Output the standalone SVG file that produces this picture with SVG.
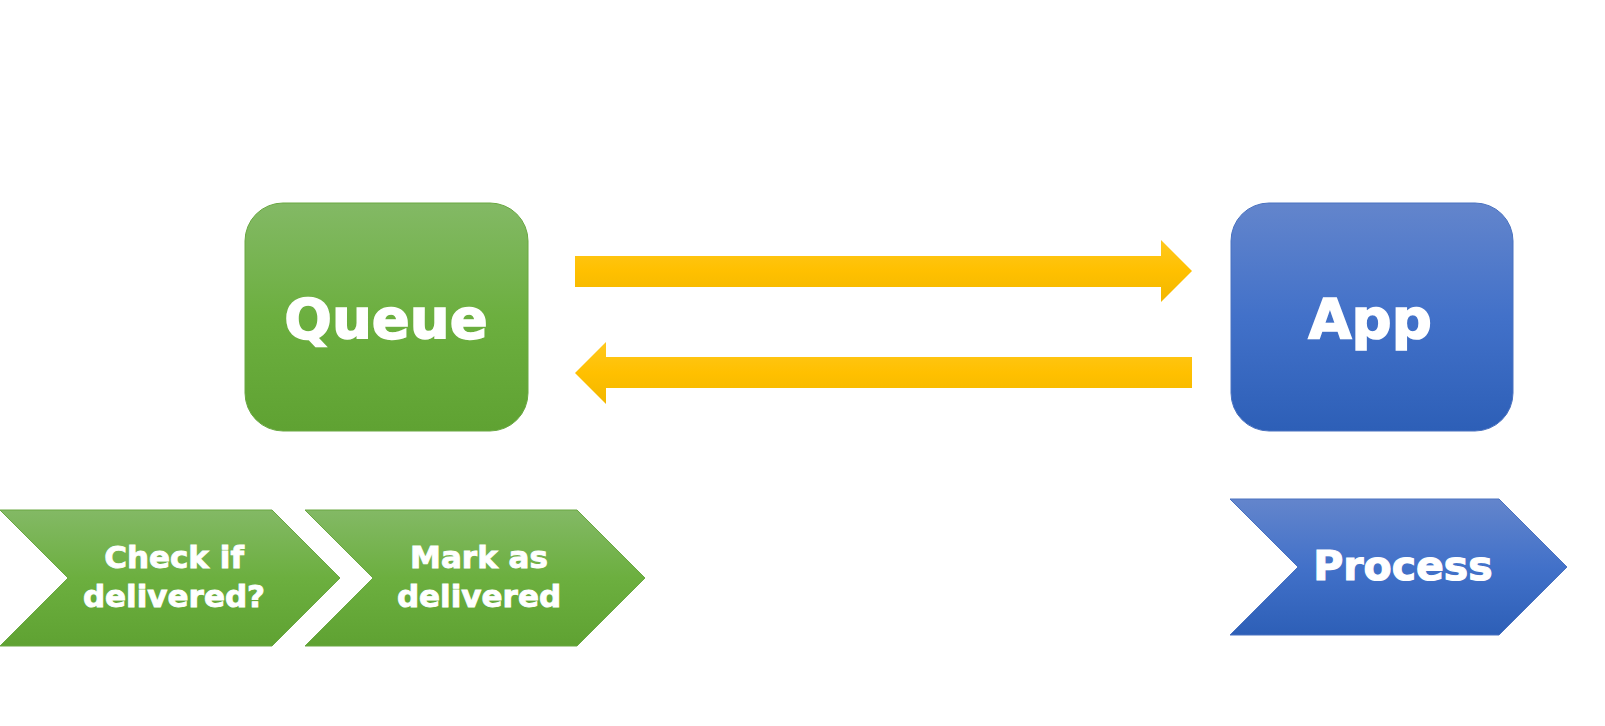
<svg xmlns="http://www.w3.org/2000/svg" width="1605" height="726" viewBox="0 0 1605 726">
<defs>
<linearGradient id="gGreen" x1="0" y1="0" x2="0" y2="1">
<stop offset="0" stop-color="#83b965"/>
<stop offset="0.5" stop-color="#6caf3f"/>
<stop offset="1" stop-color="#5fa232"/>
</linearGradient>
<linearGradient id="gBlue" x1="0" y1="0" x2="0" y2="1">
<stop offset="0" stop-color="#6385cc"/>
<stop offset="0.5" stop-color="#4271c9"/>
<stop offset="1" stop-color="#2d5fb7"/>
</linearGradient>
<linearGradient id="gYellow" x1="0" y1="0" x2="0" y2="1">
<stop offset="0" stop-color="#ffc81e"/>
<stop offset="0.5" stop-color="#ffc000"/>
<stop offset="1" stop-color="#f2b700"/>
</linearGradient>
<style>
.lbl{font-family:"DejaVu Sans","Liberation Sans",sans-serif;font-weight:bold;fill:#ffffff;stroke:#ffffff;text-anchor:middle}
.big{font-size:56px;stroke-width:1.6}
.mid{font-size:41px;stroke-width:1.2}
.sm{font-size:31px;stroke-width:0.9}
.green{fill:url(#gGreen);stroke:#6aa842;stroke-width:1}
.blue{fill:url(#gBlue);stroke:#4a72c0;stroke-width:1}
.arrow{fill:url(#gYellow)}
</style>
</defs>
<rect width="1605" height="726" fill="#ffffff"/>
<g id="connectors">
<polygon class="arrow" points="575,256 1161,256 1161,240 1192,271 1161,302 1161,287 575,287"/>
<polygon class="arrow" points="1192,357 606,357 606,342 575,373 606,404 606,388 1192,388"/>
</g>
<g id="queue">
<rect class="green" x="245" y="203" width="283" height="228" rx="38" ry="38"/>
<text class="lbl big" x="386" y="338">Queue</text>
</g>
<g id="app">
<rect class="blue" x="1231" y="203" width="282" height="228" rx="38" ry="38"/>
<text class="lbl big" x="1370" y="338">App</text>
</g>
<g id="check">
<polygon class="green" points="0,510 272,510 340,578 272,646 0,646 68,578"/>
<text class="lbl sm" x="174" y="568">Check if</text>
<text class="lbl sm" x="174" y="607">delivered?</text>
</g>
<g id="mark">
<polygon class="green" points="305,510 577,510 645,578 577,646 305,646 373,578"/>
<text class="lbl sm" x="479" y="568">Mark as</text>
<text class="lbl sm" x="479" y="607">delivered</text>
</g>
<g id="process">
<polygon class="blue" points="1230,499 1499,499 1567,567 1499,635 1230,635 1298,567"/>
<text class="lbl mid" x="1403" y="580">Process</text>
</g>
</svg>
